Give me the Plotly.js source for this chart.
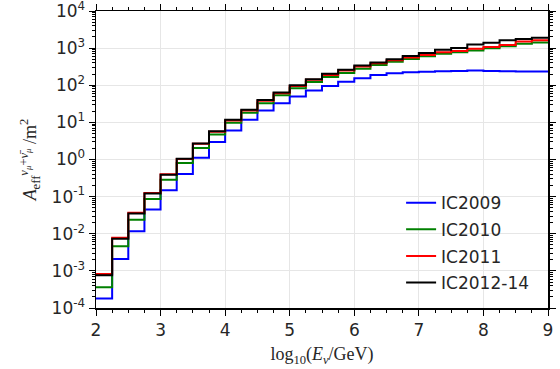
<!DOCTYPE html>
<html>
<head>
<meta charset="utf-8">
<script src="https://cdn.plot.ly/plotly-3.0.1.min.js"></script>
<style>html,body{margin:0;padding:0;background:#fff;}#chart{width:560px;height:369px;}</style>
</head>
<body>
<div id="chart"></div>
<script>
// bin edges in log10(E/GeV)
const binEdges = [2, 2.25, 2.5, 2.75, 3, 3.25, 3.5, 3.75, 4, 4.25, 4.5, 4.75, 5, 5.25, 5.5, 5.75, 6, 6.25, 6.5, 6.75, 7, 7.25, 7.5, 7.75, 8, 8.25, 8.5, 8.75, 9];

const seriesNames = ["IC2009", "IC2010", "IC2011", "IC2012-14"];

const ic2009 = [1.8e-4, 2.1e-3, 0.0117, 0.045, 0.148, 0.41, 1.12, 2.95, 6.0, 11.8, 21, 33, 50, 72, 95, 125, 155, 190, 210, 225, 232, 240, 242, 248, 244, 238, 236, 236];
const ic2010 = [3.6e-4, 4.6e-3, 0.024, 0.087, 0.285, 0.8, 2.03, 4.7, 9.8, 18.2, 33, 54, 83, 123, 166, 214, 280, 350, 430, 510, 600, 710, 775, 870, 990, 1120, 1320, 1410];
const ic2011 = [8.3e-4, 7.8e-3, 0.037, 0.125, 0.40, 1.03, 2.65, 5.6, 11.3, 21, 38, 61, 95, 140, 190, 250, 320, 390, 470, 560, 650, 770, 840, 960, 1080, 1220, 1500, 1620];
const ic2012_14 = [7.6e-4, 7.3e-3, 0.035, 0.122, 0.39, 1.05, 2.7, 5.8, 11.8, 21.9, 40, 64, 100, 146, 204, 263, 340, 412, 505, 615, 740, 910, 1005, 1250, 1400, 1620, 1770, 1900];

const yTickVals = [1e-4, 1e-3, 1e-2, 1e-1, 1e0, 1e1, 1e2, 1e3, 1e4];
const yTickText = ["10<sup>-4</sup>", "10<sup>-3</sup>", "10<sup>-2</sup>", "10<sup>-1</sup>", "10<sup>0</sup>", "10<sup>1</sup>", "10<sup>2</sup>", "10<sup>3</sup>", "10<sup>4</sup>"];

const colors = ["#0000ff", "#008000", "#ff0000", "#000000"];
const allSeries = [ic2009, ic2010, ic2011, ic2012_14];

function stepTrace(vals, name, color, i) {
  return {
    x: binEdges.slice(),
    y: vals.concat([vals[vals.length - 1]]),
    type: "scatter",
    mode: "lines",
    line: {shape: "hv", color: color, width: 2},
    name: name,
    legendgroup: "g" + i,
    cliponaxis: true
  };
}

const traces = allSeries.map((v, i) => stepTrace(v, seriesNames[i], colors[i], i));

const minorY = [];
for (let e = -4; e < 4; e++) {
  for (let m = 2; m <= 9; m++) minorY.push(m * Math.pow(10, e));
}

const tickFont = {family: "DejaVu Sans", size: 17, color: "#262626"};

const layout = {
  width: 560,
  height: 369,
  margin: {l: 96, r: 12, t: 11, b: 61},
  paper_bgcolor: "#ffffff",
  plot_bgcolor: "#ffffff",
  showlegend: true,
  legend: {
    x: 0.675, xanchor: "left",
    y: 0.4135, yanchor: "top",
    bgcolor: "rgba(0,0,0,0)",
    borderwidth: 0,
    font: {family: "DejaVu Sans", size: 17, color: "#262626"},
    traceorder: "grouped",
    tracegroupgap: 1.5
  },
  xaxis: {
    range: [2, 9],
    tickvals: [2, 3, 4, 5, 6, 7, 8, 9],
    ticktext: ["2", "3", "4", "5", "6", "7", "8", "9"],
    ticks: "outside", ticklen: 6, tickwidth: 1, tickcolor: "#000",
    showline: true, linecolor: "#000", linewidth: 1.5, mirror: "ticks",
    showgrid: true, gridcolor: "#e6e6e6", gridwidth: 1,
    zeroline: false,
    tickfont: tickFont,
    ticklabeloverflow: "allow",
    minor: {tickmode: "linear", tick0: 2, dtick: 0.25, ticks: "outside", ticklen: 3, tickcolor: "#000", showgrid: false},
    title: {text: "log<sub>10</sub>(<i>E</i><sub><i>ν</i></sub>/GeV)", font: {family: "Liberation Serif", size: 18, color: "#262626"}, standoff: 8}
  },
  yaxis: {
    type: "log",
    range: [-4, 4.0004],
    tickmode: "array",
    tickvals: yTickVals,
    ticktext: yTickText,
    ticks: "outside", ticklen: 6, tickwidth: 1, tickcolor: "#000",
    showline: true, linecolor: "#000", linewidth: 1.5, mirror: "ticks",
    showgrid: true, gridcolor: "#e6e6e6", gridwidth: 1,
    zeroline: false,
    tickfont: tickFont,
    ticklabeloverflow: "allow",
    minor: {tickmode: "array", tickvals: minorY, ticks: "outside", ticklen: 3, tickcolor: "#000", showgrid: false},
    title: {text: "<i>A</i><sub>eff</sub><sup><i>ν</i><sub><i>μ</i></sub>+<i>ν̄</i><sub><i>μ</i></sub></sup> /m<sup>2</sup>", font: {family: "Liberation Serif", size: 18, color: "#262626"}, standoff: 10}
  }
};

Plotly.newPlot("chart", traces, layout, {displayModeBar: false, staticPlot: true});
</script>
</body>
</html>
